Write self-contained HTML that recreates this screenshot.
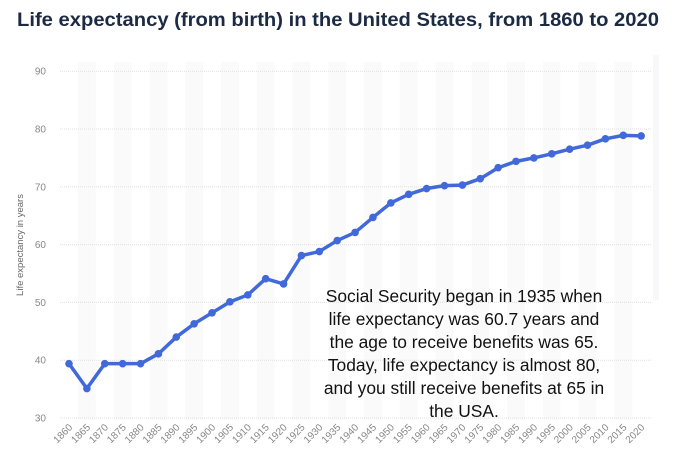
<!DOCTYPE html>
<html><head><meta charset="utf-8"><style>
body{margin:0;background:#fff;width:688px;height:466px;overflow:hidden}
svg{display:block}
</style></head><body>
<svg id="chart" width="688" height="466" xmlns="http://www.w3.org/2000/svg">
<text x="17" y="26" font-family="Liberation Sans, sans-serif" font-size="19.5" font-weight="bold" fill="#1c2a44" textLength="642" lengthAdjust="spacingAndGlyphs">Life expectancy (from birth) in the United States, from 1860 to 2020</text>
<rect x="653" y="55" width="6" height="245" fill="#f8f8fa"/>
<g id="bands"></g><g id="grid"></g><g id="yticks"></g><g id="xticks"></g>
<text transform="translate(23,245) rotate(-90)" text-anchor="middle" font-family="Liberation Sans, sans-serif" font-size="9.5" fill="#666">Life expectancy in years</text>
<polyline id="line" fill="none" stroke="#4169d9" stroke-width="3.5" stroke-linejoin="round"/>
<g id="pts"></g>
<g font-family="Liberation Sans, sans-serif" font-size="17.4" fill="#111" text-anchor="middle">
<text x="464" y="302">Social Security began in 1935 when</text>
<text x="464" y="325">life expectancy was 60.7 years and</text>
<text x="464" y="348">the age to receive benefits was 65.</text>
<text x="464" y="371">Today, life expectancy is almost 80,</text>
<text x="464" y="394">and you still receive benefits at 65 in</text>
<text x="464" y="417">the USA.</text>
</g>
</svg>
<script>
const years=[1860,1865,1870,1875,1880,1885,1890,1895,1900,1905,1910,1915,1920,1925,1930,1935,1940,1945,1950,1955,1960,1965,1970,1975,1980,1985,1990,1995,2000,2005,2010,2015,2020];
const values=[39.4,35.1,39.4,39.4,39.4,41.1,44.0,46.3,48.2,50.1,51.3,54.1,53.2,58.1,58.8,60.7,62.1,64.7,67.2,68.7,69.7,70.2,70.3,71.4,73.3,74.4,75.0,75.7,76.5,77.2,78.3,78.9,78.8];
const yTicks=[30,40,50,60,70,80,90];
const NS="http://www.w3.org/2000/svg";
const x0=69,step=17.88;
function xs(i){return x0+i*step;}
function ys(v){return 418-(v-30)*5.78;}
function mk(t,a,p){const e=document.createElementNS(NS,t);for(const k in a)e.setAttribute(k,a[k]);document.getElementById(p).appendChild(e);return e;}
for(let i=1;i<years.length;i+=2){
 const r=mk('rect',{x:xs(i)-step/2,y:62,width:step,height:358,fill:'#fafafa'},'bands');
 
 
}
yTicks.forEach(v=>{
 const l=mk('line',{x1:60,x2:652,y1:ys(v),y2:ys(v),stroke:'#e0e0e0','stroke-dasharray':'1,1'},'grid');
 
 
 const t=mk('text',{x:46,y:ys(v)+3.5,'text-anchor':'end','font-family':'Liberation Sans, sans-serif','font-size':'10',fill:'#888'},'yticks');
 t.textContent=v;
 
 
});
years.forEach((y,i)=>{
 const t=mk('text',{transform:`translate(${xs(i)+4},${428}) rotate(-45)`,'text-anchor':'end','font-family':'Liberation Sans, sans-serif','font-size':'10',fill:'#888'},'xticks');
 t.textContent=y;
 
 
});
document.getElementById('line').setAttribute('points',values.map((v,i)=>xs(i)+','+ys(v)).join(' '));
values.forEach((v,i)=>{
 const c=mk('circle',{cx:xs(i),cy:ys(v),r:3.8,fill:'#4169d9'},'pts');
 
 
});
</script>
</body></html>
